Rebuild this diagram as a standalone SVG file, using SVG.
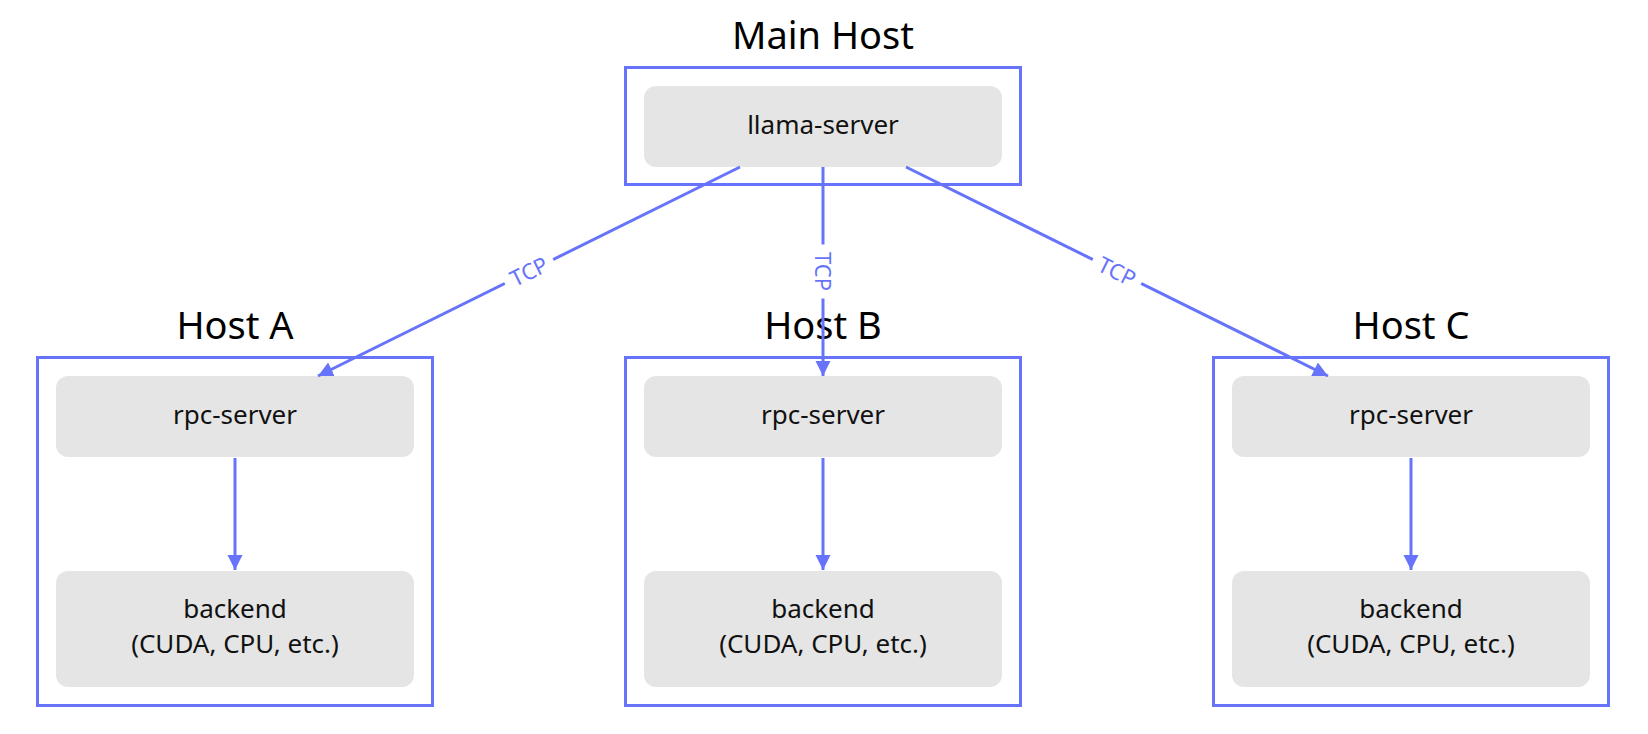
<svg xmlns="http://www.w3.org/2000/svg" width="1648" height="734" viewBox="0 0 1648 734">
<style>
.host{fill:none;stroke:#6673fa;stroke-width:3}
.box{fill:#e5e5e5}
.title{font-family:"Noto Sans","Liberation Sans",sans-serif;font-size:38px;fill:#000;text-anchor:middle}
.lbl{font-family:"Noto Sans","Liberation Sans",sans-serif;font-size:26px;fill:#111;text-anchor:middle}
.edge{fill:none;stroke:#6673fa;stroke-width:3}
.tcp{font-family:"Noto Sans","Liberation Sans",sans-serif;font-size:22px;fill:#6673fa;text-anchor:middle}
</style>
<defs>
<marker id="arr" markerUnits="userSpaceOnUse" markerWidth="16" markerHeight="16" refX="15" refY="8" orient="auto">
<path d="M0,0.5 L15,8 L0,15.5 Z" fill="#6673fa"/>
</marker>
</defs>
<rect width="1648" height="734" fill="#fff"/>

<g id="main-host">
<text class="title" x="823" y="49">Main Host</text>
<rect class="host" x="625.5" y="67.5" width="395" height="117"/>
</g>
<g id="llama-server">
<rect class="box" x="644" y="86" width="358" height="81" rx="12"/>
<text class="lbl" x="823" y="134">llama-server</text>
</g>

<g id="host-a">
<text class="title" x="235" y="339">Host A</text>
<rect class="host" x="37.5" y="357.5" width="395" height="348"/>
</g>
<g id="rpc-a">
<rect class="box" x="56" y="376" width="358" height="81" rx="12"/>
<text class="lbl" x="235" y="424">rpc-server</text>
</g>
<g id="backend-a">
<rect class="box" x="56" y="571" width="358" height="116" rx="12"/>
<text class="lbl" x="235" y="618">backend</text>
<text class="lbl" x="235" y="653">(CUDA, CPU, etc.)</text>
</g>

<g id="host-b">
<text class="title" x="823" y="339">Host B</text>
<rect class="host" x="625.5" y="357.5" width="395" height="348"/>
</g>
<g id="rpc-b">
<rect class="box" x="644" y="376" width="358" height="81" rx="12"/>
<text class="lbl" x="823" y="424">rpc-server</text>
</g>
<g id="backend-b">
<rect class="box" x="644" y="571" width="358" height="116" rx="12"/>
<text class="lbl" x="823" y="618">backend</text>
<text class="lbl" x="823" y="653">(CUDA, CPU, etc.)</text>
</g>

<g id="host-c">
<text class="title" x="1411" y="339">Host C</text>
<rect class="host" x="1213.5" y="357.5" width="395" height="348"/>
</g>
<g id="rpc-c">
<rect class="box" x="1232" y="376" width="358" height="81" rx="12"/>
<text class="lbl" x="1411" y="424">rpc-server</text>
</g>
<g id="backend-c">
<rect class="box" x="1232" y="571" width="358" height="116" rx="12"/>
<text class="lbl" x="1411" y="618">backend</text>
<text class="lbl" x="1411" y="653">(CUDA, CPU, etc.)</text>
</g>

<g id="connectors">
<line class="edge" x1="740" y1="167" x2="318" y2="376" marker-end="url(#arr)"/>
<line class="edge" x1="823" y1="167" x2="823" y2="376" marker-end="url(#arr)"/>
<line class="edge" x1="906" y1="167" x2="1328" y2="376" marker-end="url(#arr)"/>
<line class="edge" x1="235" y1="458" x2="235" y2="570" marker-end="url(#arr)"/>
<line class="edge" x1="823" y1="458" x2="823" y2="570" marker-end="url(#arr)"/>
<line class="edge" x1="1411" y1="458" x2="1411" y2="570" marker-end="url(#arr)"/>
<g transform="translate(529,271.5) rotate(-26.35)">
<rect x="-27" y="-13" width="54" height="26" fill="#fff"/>
<text class="tcp" x="0" y="8">TCP</text>
</g>
<g transform="translate(823,271.5) rotate(90)">
<rect x="-27" y="-13" width="54" height="26" fill="#fff"/>
<text class="tcp" x="0" y="8">TCP</text>
</g>
<g transform="translate(1117,271.5) rotate(26.35)">
<rect x="-27" y="-13" width="54" height="26" fill="#fff"/>
<text class="tcp" x="0" y="8">TCP</text>
</g>
</g>
</svg>
